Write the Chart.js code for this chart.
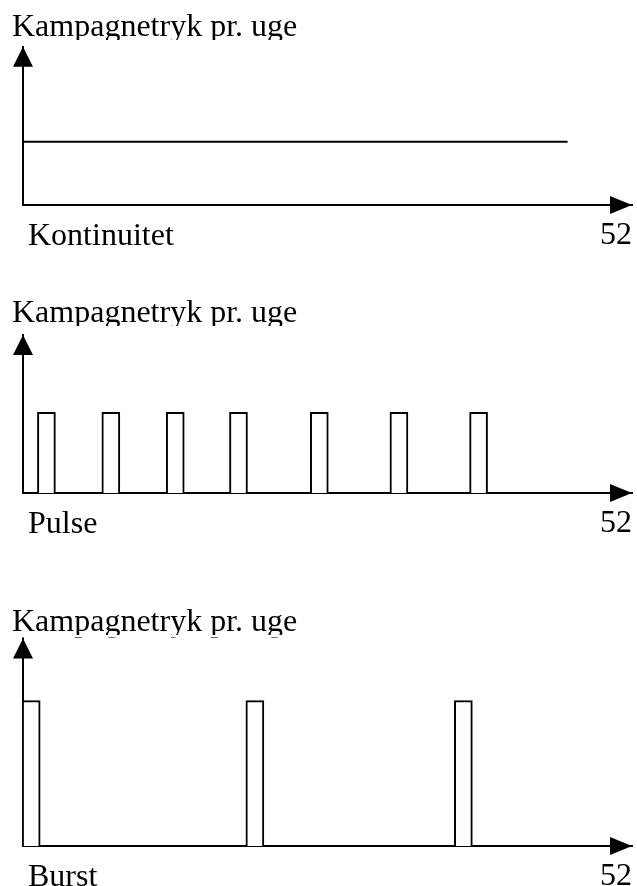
<!DOCTYPE html>
<html>
<head>
<meta charset="utf-8">
<script src="https://cdn.jsdelivr.net/npm/chart.js@4"></script>
<style>
  html, body { margin: 0; padding: 0; background: #fff; overflow: hidden; }
  body { width: 637px; height: 886px; position: relative; }
  .panel { position: absolute; left: 0; width: 637px; }
</style>
</head>
<body>
<div class="panel" style="top:0px;height:267px"><canvas id="kont"></canvas></div>
<div class="panel" style="top:286px;height:269px"><canvas id="pulse"></canvas></div>
<div class="panel" style="top:595px;height:313px"><canvas id="burst"></canvas></div>
<script>
// data (x in weeks, y in arbitrary "tryk" units)
const yTitle = "Kampagnetryk pr. uge";
const lastWeek = 52;
const yMax = 10;

const kontWeeks = [0, 46.5];
const kontLevel = [4.0, 4.0];

const pulseWeeks = [2.0, 7.5, 13.0, 18.4, 25.3, 32.1, 38.9];
const pulseLevel = [5.1, 5.1, 5.1, 5.1, 5.1, 5.1, 5.1];

const burstWeeks = [0.7, 19.8, 37.6];
const burstLevel = [7.0, 7.0, 7.0];

const serif = "'Liberation Serif', 'Times New Roman', serif";

// arrow heads on the axes + the pattern name under the axis start
const axisDeco = {
  id: "axisDeco",
  afterDraw(chart, args, opts) {
    const { ctx, chartArea: a } = chart;
    ctx.save();
    // the original text boxes cut off the title's descenders
    const cutY = chart.titleBlock.top + opts.cut;
    ctx.fillStyle = "#fff";
    ctx.fillRect(0, cutY, chart.width, a.top - cutY - 1);
    ctx.fillStyle = "#000";
    ctx.beginPath();
    ctx.moveTo(a.left, a.top);
    ctx.lineTo(a.left - 10, a.top + 20);
    ctx.lineTo(a.left + 10, a.top + 20);
    ctx.closePath();
    ctx.fill();
    ctx.beginPath();
    ctx.moveTo(a.right, a.bottom);
    ctx.lineTo(a.right - 22, a.bottom - 9);
    ctx.lineTo(a.right - 22, a.bottom + 9);
    ctx.closePath();
    ctx.fill();
    ctx.font = "32px " + serif;
    ctx.textBaseline = "alphabetic";
    ctx.textAlign = "left";
    ctx.fillText(opts.name, a.left + 5, a.bottom + 40);
    ctx.restore();
  }
};

function makeOptions(name, padTop, padBottom) {
  return {
    responsive: true,
    maintainAspectRatio: false,
    animation: false,
    events: [],
    layout: { padding: { left: 12, right: 5, top: 0, bottom: 0 } },
    plugins: {
      legend: { display: false },
      tooltip: { enabled: false },
      title: {
        display: true,
        text: yTitle,
        align: "start",
        color: "#000",
        font: { family: serif, size: 32, weight: "normal", lineHeight: 1.2 },
        padding: { top: padTop, bottom: padBottom }
      },
      axisDeco: { name: name, cut: padTop + 32 }
    },
    scales: {
      x: {
        type: "linear",
        min: 0,
        max: lastWeek,
        offset: false,
        grid: { display: false, drawTicks: false },
        border: { display: true, color: "#000", width: 2 },
        afterBuildTicks: (s) => { s.ticks = [{ value: lastWeek }]; },
        afterFit: (s) => { s.paddingLeft = 0; s.paddingRight = 0; },
        ticks: {
          align: "inner",
          maxRotation: 0,
          padding: 15,
          color: "#000",
          font: { family: serif, size: 32, lineHeight: 1 }
        }
      },
      y: {
        min: 0,
        max: yMax,
        grid: { display: false, drawTicks: false },
        border: { display: true, color: "#000", width: 2 },
        ticks: { display: false },
        afterFit: (s) => { s.width = 11; }
      }
    }
  };
}

function pts(xs, ys) {
  return xs.map((x, i) => ({ x: x, y: ys[i] }));
}

new Chart(document.getElementById("kont"), {
  type: "line",
  data: {
    datasets: [{
      data: pts(kontWeeks, kontLevel),
      borderColor: "#000",
      borderWidth: 2,
      pointRadius: 0,
      fill: false
    }]
  },
  options: makeOptions("Kontinuitet", 8, 0.3),
  plugins: [axisDeco]
});

function barSet(xs, ys) {
  return {
    data: pts(xs, ys),
    backgroundColor: "#fff",
    borderColor: "#000",
    borderWidth: 2,
    barThickness: 18
  };
}

new Chart(document.getElementById("pulse"), {
  type: "bar",
  data: { datasets: [barSet(pulseWeeks, pulseLevel)] },
  options: makeOptions("Pulse", 8, 2.6),
  plugins: [axisDeco]
});

new Chart(document.getElementById("burst"), {
  type: "bar",
  data: { datasets: [barSet(burstWeeks, burstLevel)] },
  options: makeOptions("Burst", 8, -3),
  plugins: [axisDeco]
});
</script>
</body>
</html>
